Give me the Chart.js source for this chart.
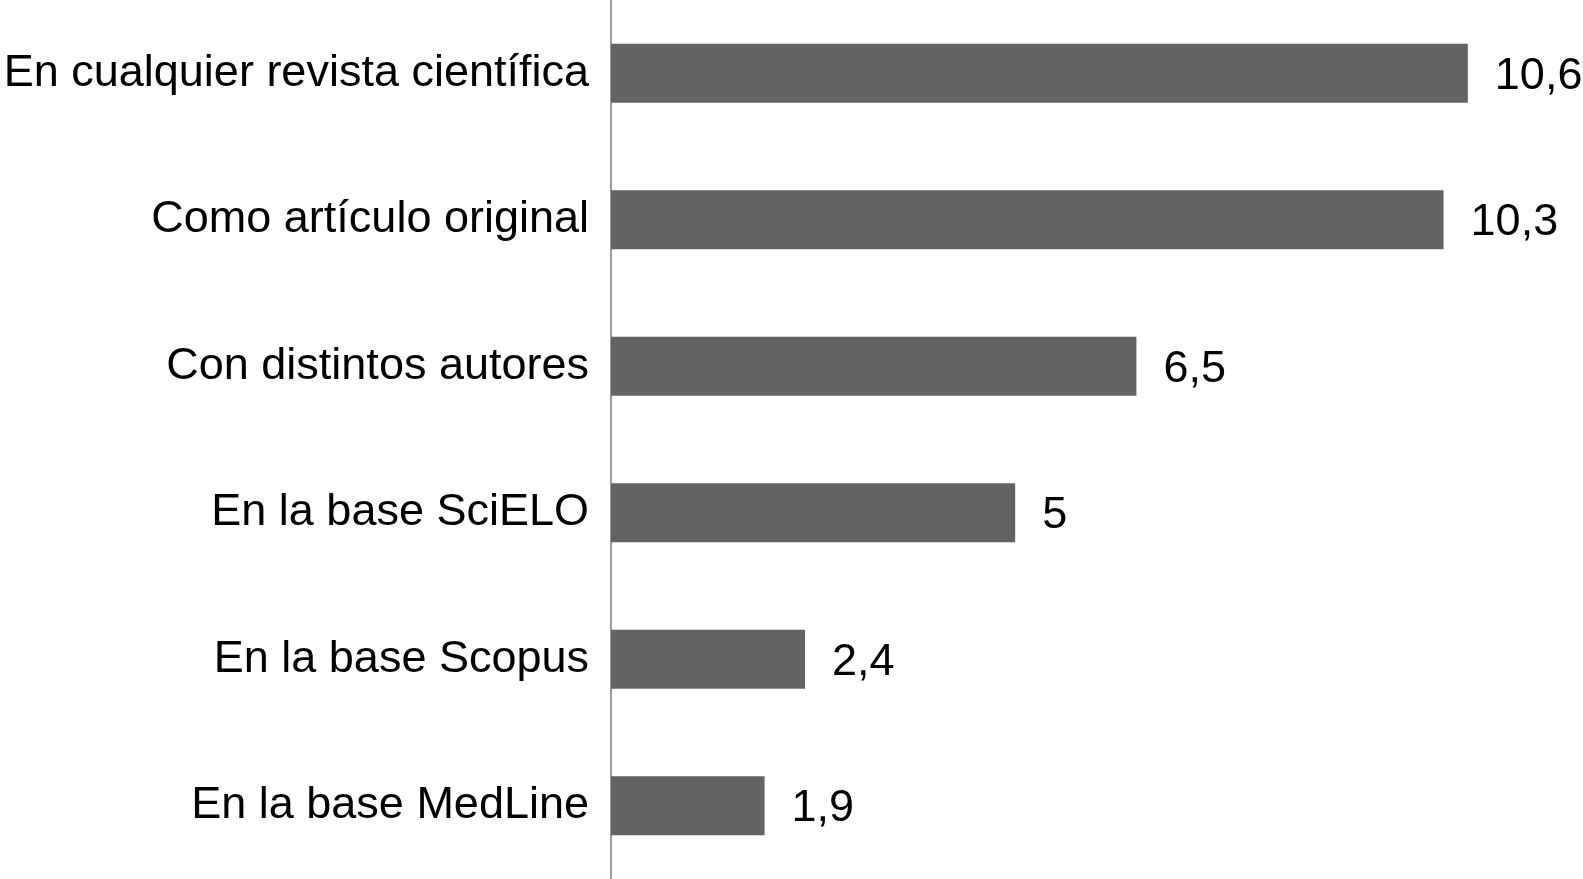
<!DOCTYPE html>
<html>
<head>
<meta charset="utf-8">
<script src="https://cdn.jsdelivr.net/npm/chart.js@4"></script>
<style>
  html, body { margin: 0; padding: 0; background: #fff; }
  #chart { display: block; }
</style>
</head>
<body>
<canvas id="chart" width="1583" height="879"></canvas>
<script>
// categorías (de arriba a abajo)
const categorias = [
  'En cualquier revista científica',
  'Como artículo original',
  'Con distintos autores',
  'En la base SciELO',
  'En la base Scopus',
  'En la base MedLine'
];
const valores = [10.6, 10.3, 6.5, 5, 2.4, 1.9];

const FONT = "'Liberation Sans', Arial, Helvetica, sans-serif";

// etiquetas de valor a la derecha de cada barra
const valueLabels = {
  id: 'valueLabels',
  afterDatasetsDraw(chart) {
    const ctx = chart.ctx;
    const meta = chart.getDatasetMeta(0);
    ctx.save();
    ctx.font = '45px ' + FONT;
    ctx.fillStyle = '#000';
    ctx.textAlign = 'left';
    ctx.textBaseline = 'middle';
    meta.data.forEach((bar, i) => {
      const txt = String(valores[i]).replace('.', ',');
      ctx.fillText(txt, bar.x + 27, bar.y + 3);
    });
    ctx.restore();
  }
};

new Chart(document.getElementById('chart'), {
  type: 'bar',
  data: {
    labels: categorias,
    datasets: [{
      data: valores,
      backgroundColor: '#636363',
      categoryPercentage: 1,
      barPercentage: 0.403
    }]
  },
  options: {
    indexAxis: 'y',
    responsive: false,
    animation: false,
    layout: { padding: { left: 0, right: 2, top: 0, bottom: 0 } },
    plugins: {
      legend: { display: false },
      tooltip: { enabled: false }
    },
    scales: {
      x: {
        display: false,
        min: 0,
        max: 12
      },
      y: {
        grid: { display: false, drawTicks: false },
        border: { display: true, color: '#999', width: 2 },
        ticks: {
          color: '#000',
          padding: 22,
          font: { family: FONT, size: 45 }
        },
        afterFit(scale) {
          scale.width = 611;
          // sin margen arriba/abajo: el eje ocupa todo el alto
          scale.paddingTop = 0;
          scale.paddingBottom = 0;
        }
      }
    }
  },
  plugins: [valueLabels]
});
</script>
</body>
</html>
